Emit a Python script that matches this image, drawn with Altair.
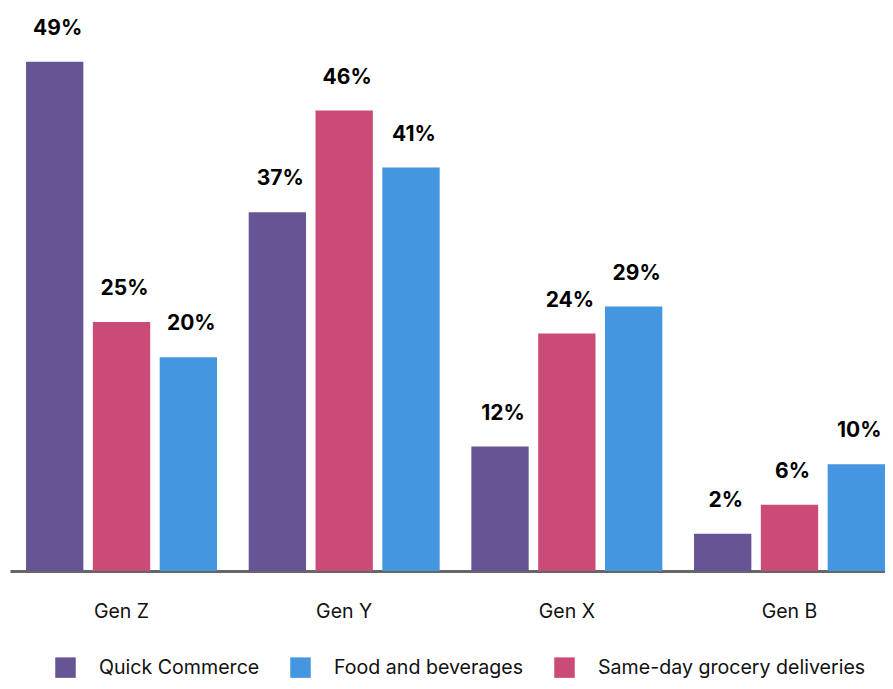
import altair as alt
import pandas as pd

generations = ["Gen Z", "Gen Y", "Gen X", "Gen B"]
bar_order = ["Quick Commerce", "Same-day grocery deliveries", "Food and beverages"]
legend_order = ["Quick Commerce", "Food and beverages", "Same-day grocery deliveries"]
legend_colors = ["#675494", "#4596e0", "#ca4b78"]

# bar heights (percent)
quick_commerce = [49.1, 34.6, 12.0, 3.6]
same_day = [24.0, 44.4, 22.9, 6.4]
food_bev = [20.6, 38.9, 25.5, 10.3]

# printed labels
label_qc = ["49%", "37%", "12%", "2%"]
label_sd = ["25%", "46%", "24%", "6%"]
label_fb = ["20%", "41%", "29%", "10%"]

rows = []
for name, vals, labs in [
    ("Quick Commerce", quick_commerce, label_qc),
    ("Same-day grocery deliveries", same_day, label_sd),
    ("Food and beverages", food_bev, label_fb),
]:
    for g, v, l in zip(generations, vals, labs):
        rows.append({"gen": g, "series": name, "value": v, "label": l})
df = pd.DataFrame(rows)

FONT = "Inter"

base = alt.Chart(df).encode(
    x=alt.X(
        "gen:N",
        sort=generations,
        scale=alt.Scale(paddingInner=0.1423, paddingOuter=0.036, align=1),
        axis=alt.Axis(
            title=None,
            ticks=False,
            labelAngle=0,
            labelPadding=31,
            labelFontSize=19.5,
            labelFont=FONT,
            labelColor="#111111",
            domainColor="#666666",
            domainWidth=3,
            grid=False,
        ),
    ),
    xOffset=alt.XOffset(
        "series:N", sort=bar_order, scale=alt.Scale(paddingInner=0.142, paddingOuter=0)
    ),
    y=alt.Y("value:Q", scale=alt.Scale(domain=[0, 54.29], nice=False, zero=True), axis=None),
)

bars = base.mark_bar().encode(
    color=alt.Color(
        "series:N",
        scale=alt.Scale(domain=legend_order, range=legend_colors),
        legend=alt.Legend(
            title=None,
            orient="none",
            legendX=45,
            legendY=649,
            direction="horizontal",
            symbolType="square",
            symbolSize=420,
            symbolStrokeWidth=0,
            labelFontSize=19.6,
            labelFont=FONT,
            labelColor="#111111",
            labelOffset=23,
            labelLimit=400,
            columnPadding=30,
            padding=0,
        ),
    )
)

text = base.mark_text(
    font=FONT, fontSize=21, fontWeight="bold", color="#000000", dy=-27, dx=3, baseline="alphabetic"
).encode(text="label:N")

chart = (
    alt.layer(bars, text)
    .properties(
        width=875,
        height=563,
        autosize=alt.AutoSizeParams(type="none"),
        padding={"left": 2, "top": 0, "right": 0, "bottom": 110},
    )
    .configure_view(stroke=None)
)

chart.save("out.html", embed_options={"renderer": "svg", "actions": False})
